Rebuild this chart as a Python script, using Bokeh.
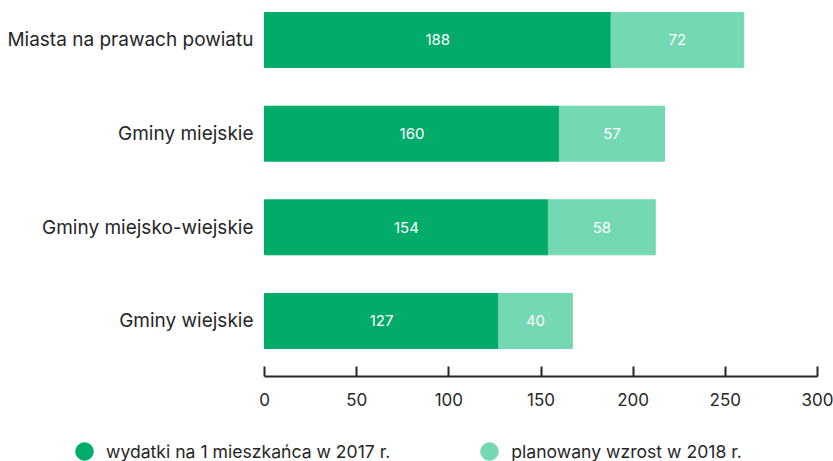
from bokeh.plotting import figure
from bokeh.models import ColumnDataSource, Range1d, FixedTicker, LabelSet, Legend, LegendItem
from bokeh.core.properties import value
from bokeh.embed import file_html
from bokeh.resources import INLINE

# ---- data ----
categories = ["Miasta na prawach powiatu", "Gminy miejskie", "Gminy miejsko-wiejskie", "Gminy wiejskie"]
spend_2017 = [188, 160, 154, 127]
growth_2018 = [72, 57, 58, 40]
series_names = ["wydatki na 1 mieszkańca w 2017 r.", "planowany wzrost w 2018 r."]
x_ticks = [0, 50, 100, 150, 200, 250, 300]

DARK = "#03AB6B"
LIGHT = "#74D8B2"
TEXT = "#262626"
FONT = "Inter"

n = len(categories)
ypos = [n - 1 - i for i in range(n)]
src = ColumnDataSource(dict(
    y=ypos,
    a=spend_2017,
    tot=[a + b for a, b in zip(spend_2017, growth_2018)],
    amid=[a / 2 for a in spend_2017],
    bmid=[a + b / 2 for a, b in zip(spend_2017, growth_2018)],
    alab=[str(a) for a in spend_2017],
    blab=[str(b) for b in growth_2018],
))

# frame covers the whole canvas; axes are pinned inside it
p = figure(width=833, height=461, x_range=Range1d(-143.22, 308.68), y_range=Range1d(-1.5, 3.4217),
           output_backend="svg", toolbar_location=None, min_border=0)
p.outline_line_color = None
p.xgrid.visible = False
p.ygrid.visible = False

# legend proxies (circle markers at segment centres, fully covered by the bars drawn after them)
r1 = p.scatter(x="amid", y="y", source=src, marker="circle", size=18, color=DARK)
r2 = p.scatter(x="bmid", y="y", source=src, marker="circle", size=18, color=LIGHT)

bh = 0.587
p.hbar(y="y", left=0, right="a", height=bh, color=DARK, source=src)
p.hbar(y="y", left="a", right="tot", height=bh, color=LIGHT, source=src)

for xcol, tcol in (("amid", "alab"), ("bmid", "blab")):
    p.add_layout(LabelSet(x=xcol, y="y", text=tcol, source=src, text_align="center",
                          text_baseline="middle", text_color="white", text_font=value(FONT),
                          text_font_size="15px"))

xa = p.xaxis[0]
xa.fixed_location = -0.5925
xa.bounds = (x_ticks[0], x_ticks[-1])
xa.ticker = FixedTicker(ticks=x_ticks)
xa.major_tick_in = 10
xa.major_tick_out = 0
xa.minor_tick_line_color = None
xa.axis_line_width = 2
xa.axis_line_color = TEXT
xa.major_tick_line_width = 2
xa.major_tick_line_color = TEXT
xa.major_label_standoff = 17
xa.major_label_text_font = FONT
xa.major_label_text_font_size = "17px"
xa.major_label_text_color = TEXT

ya = p.yaxis[0]
ya.fixed_location = 0
ya.ticker = FixedTicker(ticks=ypos)
ya.major_label_overrides = {y: c for y, c in zip(ypos, categories)}
ya.axis_line_color = None
ya.major_tick_line_color = None
ya.minor_tick_line_color = None
ya.major_label_standoff = 5
ya.major_label_text_font = FONT
ya.major_label_text_font_size = "19px"
ya.major_label_text_color = TEXT

legend = Legend(items=[LegendItem(label=series_names[0], renderers=[r1]),
                       LegendItem(label=series_names[1], renderers=[r2])],
                orientation="horizontal", location=(62, -14),
                glyph_width=44, glyph_height=48, label_standoff=0, spacing=77,
                padding=0, margin=0, border_line_color=None, background_fill_alpha=0,
                label_text_font=FONT, label_text_font_size="17.6px", label_text_color=TEXT)
p.add_layout(legend)

open("out.html", "w").write(file_html(p, INLINE))
